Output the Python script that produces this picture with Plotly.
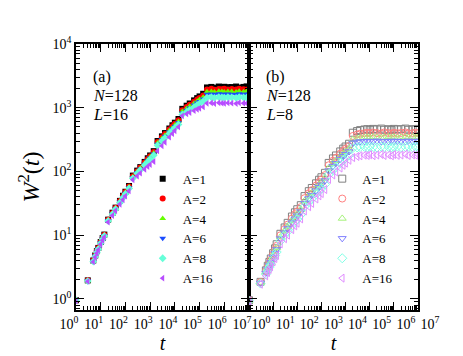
import plotly.graph_objects as go

# sampling times (same for both panels)
t = [1, 3, 5, 6, 7, 8, 10, 12, 14,
     20, 30, 40, 60, 80, 100, 140,
     200, 300, 400, 600, 800, 1000, 1400,
     2000, 3000, 4000, 6000, 8000, 10000, 14000,
     20000, 30000, 40000, 60000, 80000, 100000, 140000,
     200000, 300000, 400000, 600000, 800000, 1000000, 1400000,
     2000000, 3000000, 4000000, 6000000, 8000000, 10000000]

labels = ["A=1", "A=2", "A=4", "A=6", "A=8", "A=16"]

# panel (a): N=128, L=16
a_A1 = [0.95, 1.95, 4.0, 4.8, 5.6, 6.3, 7.8, 9.0, 10.2,
        17.5, 22.5, 27, 34.5, 41.5, 48, 59,
        86, 103, 117, 141, 161, 178, 208,
        300, 355, 400, 472, 530, 582, 665,
        960, 1075, 1165, 1305, 1415, 1505, 1655,
        2080, 2120, 2060, 2150, 2090, 2130, 2100,
        2110, 2150, 2070, 2120, 2160, 2100]
a_A2 = [0.95, 1.95, 4.0, 4.8, 5.6, 6.3, 7.8, 9.0, 10.1,
        17.4, 22.3, 26.8, 34.2, 41, 47.4, 58,
        84, 101, 115, 138, 157, 173, 202,
        290, 343, 386, 455, 510, 558, 637,
        915, 1025, 1110, 1240, 1340, 1425, 1560,
        1940, 1980, 1920, 1970, 1950, 1990, 1930,
        1960, 1940, 1990, 1950, 1920, 1970]
a_A4 = [0.95, 1.93, 3.95, 4.75, 5.5, 6.2, 7.7, 8.9, 10.0,
        17.2, 22, 26.4, 33.6, 40.3, 46.5, 56.8,
        82, 99, 112, 134, 152, 168, 195,
        280, 330, 371, 437, 490, 536, 610,
        870, 970, 1050, 1170, 1265, 1340, 1465,
        1780, 1800, 1770, 1810, 1790, 1760, 1800,
        1790, 1770, 1810, 1780, 1800, 1790]
a_A6 = [0.95, 1.92, 3.9, 4.7, 5.45, 6.1, 7.6, 8.8, 9.9,
        17, 21.7, 26, 33, 39.5, 45.5, 55.5,
        80, 96, 109, 130, 147, 162, 188,
        268, 316, 355, 417, 467, 510, 580,
        825, 915, 990, 1100, 1185, 1255, 1370,
        1620, 1640, 1610, 1650, 1630, 1620, 1640,
        1630, 1610, 1650, 1630, 1620, 1640]
a_A8 = [0.95, 1.9, 3.85, 4.6, 5.35, 6.0, 7.45, 8.6, 9.7,
        16.7, 21.3, 25.5, 32.3, 38.6, 44.4, 54,
        78, 93, 105, 125, 141, 155, 179,
        255, 300, 336, 394, 440, 480, 545,
        780, 860, 925, 1025, 1100, 1160, 1260,
        1440, 1460, 1430, 1470, 1450, 1440, 1460,
        1450, 1430, 1470, 1450, 1440, 1460]
a_A16 = [0.93, 1.88, 3.8, 4.5, 5.2, 5.85, 7.2, 8.3, 9.3,
         16, 20.3, 24.2, 30.5, 36, 41, 49.5,
         74, 85, 94, 108, 119, 128, 143,
         210, 252, 287, 345, 392, 435, 500,
         745, 800, 840, 900, 945, 982, 1030,
         1170, 1190, 1160, 1200, 1180, 1170, 1190,
         1180, 1160, 1200, 1180, 1170, 1190]

# panel (b): N=128, L=8
b_A1 = [0.95, 1.85, 2.8, 3.3, 3.8, 4.3, 5.2, 6.2, 7.2,
        10.5, 13.2, 15.6, 19.6, 22.8, 25.5, 29.5,
        41, 49, 55, 65, 74, 81, 95,
        136, 160, 178, 206, 228, 246, 272,
        405, 430, 445, 455, 460, 450, 465,
        455, 470, 450, 460, 445, 465, 455,
        460, 470, 450, 460, 455, 465]
b_A2 = [0.95, 1.83, 2.72, 3.19, 3.66, 4.12, 4.98, 5.89, 6.8,
        9.95, 12.5, 14.6, 18.3, 21.3, 23.7, 27.5,
        38, 45.3, 50.8, 60.1, 68.2, 74.7, 87.4,
        125, 147, 164, 190, 210, 226, 250,
        360, 380, 392, 398, 404, 396, 408,
        400, 395, 410, 400, 392, 405, 398,
        402, 410, 395, 400, 406, 398]
b_A4 = [0.94, 1.8, 2.63, 3.06, 3.48, 3.9, 4.7, 5.51, 6.33,
        9.32, 11.6, 13.5, 16.8, 19.5, 21.6, 25.2,
        34.5, 40.9, 45.9, 54.3, 61.5, 67.3, 78.5,
        112, 132, 147, 170, 188, 203, 225,
        315, 328, 336, 340, 344, 338, 346,
        340, 335, 342, 348, 338, 344, 336,
        342, 346, 338, 344, 340, 345]
b_A6 = [0.94, 1.78, 2.55, 2.95, 3.34, 3.73, 4.49, 5.21, 5.96,
        8.82, 10.9, 12.7, 15.7, 18.1, 20.1, 23.4,
        31.9, 37.6, 42.2, 49.9, 56.4, 61.7, 71.7,
        103, 121, 134, 156, 172, 186, 205,
        280, 290, 294, 297, 300, 296, 298,
        302, 295, 299, 297, 301, 296, 300,
        298, 295, 302, 297, 299, 300]
b_A8 = [0.93, 1.74, 2.44, 2.8, 3.14, 3.48, 4.17, 4.79, 5.44,
        8.11, 9.97, 11.4, 14.0, 16.1, 17.8, 20.9,
        28.2, 33.1, 37.1, 43.9, 49.3, 53.9, 62.5,
        89.5, 105, 117, 136, 150, 162, 179,
        232, 238, 241, 244, 240, 246, 242,
        238, 245, 241, 244, 239, 243, 246,
        240, 242, 245, 239, 243, 241]
b_A16 = [0.92, 1.7, 2.3, 2.6, 2.9, 3.2, 3.8, 4.3, 4.8,
         7.3, 8.8, 10, 12.2, 14, 15.4, 18,
         24, 28, 31.5, 37, 41.5, 45, 52,
         75, 88, 98, 113, 125, 135, 150,
         165, 172, 176, 180, 178, 183, 177,
         181, 185, 178, 182, 176, 184, 179,
         181, 186, 178, 182, 180, 184]

panel_a = [a_A1, a_A2, a_A4, a_A6, a_A8, a_A16]
panel_b = [b_A1, b_A2, b_A4, b_A6, b_A8, b_A16]

symbols = ["square", "circle", "triangle-up", "triangle-down", "diamond", "triangle-left"]
colors_a = ["#000000", "#ff0000", "#66ff00", "#1a4cff", "#66ffd9", "#b84dff"]
colors_b = ["#808080", "#ff8080", "#a6f27a", "#8080ff", "#80ffe6", "#e08cff"]

SERIF = "Liberation Serif"

fig = go.Figure()
for i in range(6):
    fig.add_trace(go.Scatter(
        x=t, y=panel_a[i], mode="markers", name=labels[i], legend="legend",
        marker=dict(symbol=symbols[i], size=6, color=colors_a[i], line=dict(width=0)),
        xaxis="x", yaxis="y"))
for i in range(6):
    fig.add_trace(go.Scatter(
        x=t, y=panel_b[i], mode="markers", name=labels[i], legend="legend2",
        marker=dict(symbol=symbols[i] + "-open", size=7, color=colors_b[i],
                    line=dict(width=1, color=colors_b[i])),
        xaxis="x2", yaxis="y2"))

xtv = [1, 10, 100, 1000, 10000, 100000, 1000000, 10000000]
xtt = ["10<sup>%d</sup>" % k for k in range(8)]
ytv = [1, 10, 100, 1000, 10000]
ytt = ["10<sup>%d</sup>" % k for k in range(5)]

common = dict(type="log", showgrid=False, zeroline=False, showline=True,
              linecolor="black", linewidth=1.5, mirror="allticks",
              ticks="inside", ticklen=8, tickwidth=1.2, tickcolor="black",
              minor=dict(ticks="inside", ticklen=4, tickwidth=1, tickcolor="black", dtick="D1"),
              tickfont=dict(family=SERIF, size=14, color="black"))

split = 173 / 342
fig.update_layout(
    width=463, height=356,
    margin=dict(l=68, r=53, t=36, b=54),
    paper_bgcolor="white", plot_bgcolor="white",
    font=dict(family=SERIF, color="black"),
    xaxis=dict(common, domain=[0, split], range=[0, 7], tickvals=xtv, ticktext=xtt,
               ticklabelshift=-7,
               title=dict(text="<i>t</i>", font=dict(family=SERIF, size=20), standoff=0)),
    xaxis2=dict(common, domain=[split, 1], range=[0, 7], tickvals=xtv, ticktext=xtt,
                ticklabelshift=12, anchor="y2",
                title=dict(text="<i>t</i>", font=dict(family=SERIF, size=20), standoff=0)),
    yaxis=dict(common, range=[-0.175, 4.0], tickvals=ytv, ticktext=ytt,
               title=dict(text="<i>W</i><sup>2</sup>(<i>t</i>)", font=dict(family=SERIF, size=24), standoff=6)),
    yaxis2=dict(common, range=[-0.175, 4.0], tickvals=ytv, ticktext=ytt,
                showticklabels=False, anchor="x2"),
    legend=dict(x=0.195, y=0.55, xanchor="left", yanchor="top", bgcolor="rgba(0,0,0,0)",
                font=dict(family=SERIF, size=13), itemwidth=30, tracegroupgap=0),
    legend2=dict(x=0.72, y=0.55, xanchor="left", yanchor="top", bgcolor="rgba(0,0,0,0)",
                 font=dict(family=SERIF, size=13), itemwidth=30, tracegroupgap=0),
    showlegend=True,
)

notes = [(0.045, "(a)"), (0.55, "(b)")]
for xp, txt in notes:
    fig.add_annotation(x=xp, y=0.917, xref="paper", yref="paper", text=txt,
                       showarrow=False, xanchor="left", font=dict(family=SERIF, size=16))
fig.add_annotation(x=0.045, y=0.846, xref="paper", yref="paper", text="<i>N</i>=128",
                   showarrow=False, xanchor="left", font=dict(family=SERIF, size=16))
fig.add_annotation(x=0.045, y=0.776, xref="paper", yref="paper", text="<i>L</i>=16",
                   showarrow=False, xanchor="left", font=dict(family=SERIF, size=16))
fig.add_annotation(x=0.55, y=0.846, xref="paper", yref="paper", text="<i>N</i>=128",
                   showarrow=False, xanchor="left", font=dict(family=SERIF, size=16))
fig.add_annotation(x=0.55, y=0.776, xref="paper", yref="paper", text="<i>L</i>=8",
                   showarrow=False, xanchor="left", font=dict(family=SERIF, size=16))

fig.write_html("out.html")
